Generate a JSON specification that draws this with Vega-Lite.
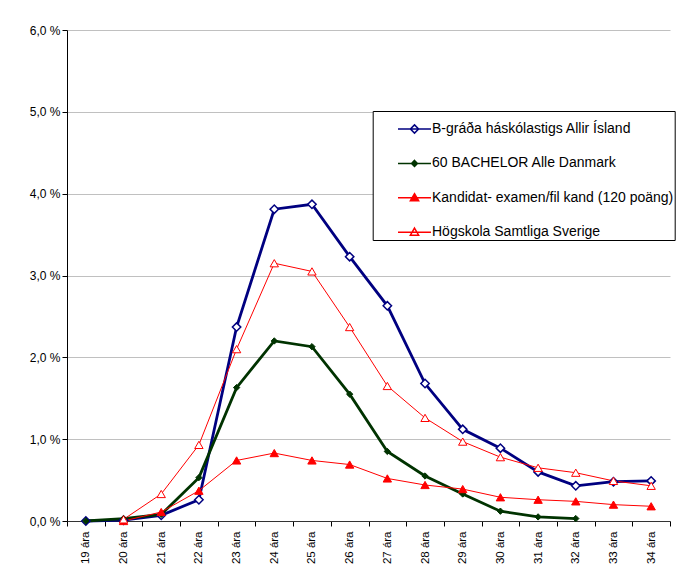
{
  "$schema": "https://vega.github.io/schema/vega-lite/v6.json",
  "width": 603,
  "height": 491,
  "autosize": {"type": "none"},
  "padding": {"left": 67, "top": 30, "right": 23, "bottom": 62},
  "background": "white",
  "config": {
    "view": {"stroke": null},
    "font": "Liberation Sans",
    "axis": {"labelFont": "Liberation Sans", "labelColor": "black", "domainColor": "black", "tickColor": "black", "title": null}
  },
  "datasets": {
    "d": [
      {"age": "19 ára", "series": "B-gráða háskólastigs Allir Ísland", "v": 0.0},
      {"age": "20 ára", "series": "B-gráða háskólastigs Allir Ísland", "v": 0.01},
      {"age": "21 ára", "series": "B-gráða háskólastigs Allir Ísland", "v": 0.07},
      {"age": "22 ára", "series": "B-gráða háskólastigs Allir Ísland", "v": 0.26},
      {"age": "23 ára", "series": "B-gráða háskólastigs Allir Ísland", "v": 2.37},
      {"age": "24 ára", "series": "B-gráða háskólastigs Allir Ísland", "v": 3.81},
      {"age": "25 ára", "series": "B-gráða háskólastigs Allir Ísland", "v": 3.87},
      {"age": "26 ára", "series": "B-gráða háskólastigs Allir Ísland", "v": 3.23},
      {"age": "27 ára", "series": "B-gráða háskólastigs Allir Ísland", "v": 2.63},
      {"age": "28 ára", "series": "B-gráða háskólastigs Allir Ísland", "v": 1.68},
      {"age": "29 ára", "series": "B-gráða háskólastigs Allir Ísland", "v": 1.12},
      {"age": "30 ára", "series": "B-gráða háskólastigs Allir Ísland", "v": 0.89},
      {"age": "31 ára", "series": "B-gráða háskólastigs Allir Ísland", "v": 0.6},
      {"age": "32 ára", "series": "B-gráða háskólastigs Allir Ísland", "v": 0.43},
      {"age": "33 ára", "series": "B-gráða háskólastigs Allir Ísland", "v": 0.48},
      {"age": "34 ára", "series": "B-gráða háskólastigs Allir Ísland", "v": 0.49},
      {"age": "19 ára", "series": "60 BACHELOR Alle Danmark", "v": 0.0},
      {"age": "20 ára", "series": "60 BACHELOR Alle Danmark", "v": 0.03},
      {"age": "21 ára", "series": "60 BACHELOR Alle Danmark", "v": 0.08},
      {"age": "22 ára", "series": "60 BACHELOR Alle Danmark", "v": 0.53},
      {"age": "23 ára", "series": "60 BACHELOR Alle Danmark", "v": 1.63},
      {"age": "24 ára", "series": "60 BACHELOR Alle Danmark", "v": 2.2},
      {"age": "25 ára", "series": "60 BACHELOR Alle Danmark", "v": 2.13},
      {"age": "26 ára", "series": "60 BACHELOR Alle Danmark", "v": 1.55},
      {"age": "27 ára", "series": "60 BACHELOR Alle Danmark", "v": 0.85},
      {"age": "28 ára", "series": "60 BACHELOR Alle Danmark", "v": 0.55},
      {"age": "29 ára", "series": "60 BACHELOR Alle Danmark", "v": 0.33},
      {"age": "30 ára", "series": "60 BACHELOR Alle Danmark", "v": 0.12},
      {"age": "31 ára", "series": "60 BACHELOR Alle Danmark", "v": 0.05},
      {"age": "32 ára", "series": "60 BACHELOR Alle Danmark", "v": 0.03},
      {"age": "20 ára", "series": "Kandidat- examen/fil kand (120 poäng)", "v": 0.0},
      {"age": "21 ára", "series": "Kandidat- examen/fil kand (120 poäng)", "v": 0.11},
      {"age": "22 ára", "series": "Kandidat- examen/fil kand (120 poäng)", "v": 0.37},
      {"age": "23 ára", "series": "Kandidat- examen/fil kand (120 poäng)", "v": 0.74},
      {"age": "24 ára", "series": "Kandidat- examen/fil kand (120 poäng)", "v": 0.83},
      {"age": "25 ára", "series": "Kandidat- examen/fil kand (120 poäng)", "v": 0.74},
      {"age": "26 ára", "series": "Kandidat- examen/fil kand (120 poäng)", "v": 0.69},
      {"age": "27 ára", "series": "Kandidat- examen/fil kand (120 poäng)", "v": 0.52},
      {"age": "28 ára", "series": "Kandidat- examen/fil kand (120 poäng)", "v": 0.44},
      {"age": "29 ára", "series": "Kandidat- examen/fil kand (120 poäng)", "v": 0.39},
      {"age": "30 ára", "series": "Kandidat- examen/fil kand (120 poäng)", "v": 0.29},
      {"age": "31 ára", "series": "Kandidat- examen/fil kand (120 poäng)", "v": 0.26},
      {"age": "32 ára", "series": "Kandidat- examen/fil kand (120 poäng)", "v": 0.24},
      {"age": "33 ára", "series": "Kandidat- examen/fil kand (120 poäng)", "v": 0.2},
      {"age": "34 ára", "series": "Kandidat- examen/fil kand (120 poäng)", "v": 0.18},
      {"age": "20 ára", "series": "Högskola Samtliga Sverige", "v": 0.02},
      {"age": "21 ára", "series": "Högskola Samtliga Sverige", "v": 0.33},
      {"age": "22 ára", "series": "Högskola Samtliga Sverige", "v": 0.93},
      {"age": "23 ára", "series": "Högskola Samtliga Sverige", "v": 2.1},
      {"age": "24 ára", "series": "Högskola Samtliga Sverige", "v": 3.15},
      {"age": "25 ára", "series": "Högskola Samtliga Sverige", "v": 3.05},
      {"age": "26 ára", "series": "Högskola Samtliga Sverige", "v": 2.37},
      {"age": "27 ára", "series": "Högskola Samtliga Sverige", "v": 1.65},
      {"age": "28 ára", "series": "Högskola Samtliga Sverige", "v": 1.26},
      {"age": "29 ára", "series": "Högskola Samtliga Sverige", "v": 0.97},
      {"age": "30 ára", "series": "Högskola Samtliga Sverige", "v": 0.78},
      {"age": "31 ára", "series": "Högskola Samtliga Sverige", "v": 0.65},
      {"age": "32 ára", "series": "Högskola Samtliga Sverige", "v": 0.59},
      {"age": "33 ára", "series": "Högskola Samtliga Sverige", "v": 0.49},
      {"age": "34 ára", "series": "Högskola Samtliga Sverige", "v": 0.43}
    ]
  },
  "data": {"name": "d"},
  "encoding": {
    "x": {
      "field": "age",
      "type": "ordinal",
      "scale": {"type": "band", "paddingInner": 0, "paddingOuter": 0},
      "axis": {"labelAngle": -90, "tickBand": "extent", "tickSize": 5, "labelPadding": 5, "labelFontSize": 11.5, "grid": false, "domainColor": "#333333"}
    },
    "y": {
      "field": "v",
      "type": "quantitative",
      "scale": {"domain": [0, 6]},
      "axis": {
        "values": [0, 1, 2, 3, 4, 5, 6],
        "labelExpr": "replace(format(datum.value, '.1f'), '.', ',') + ' %'",
        "grid": true,
        "gridColor": "#c0c0c0",
        "tickSize": 5,
        "labelPadding": 2,
        "labelFontSize": 12
      }
    }
  },
  "layer": [
    {
      "mark": {"type": "line"},
      "encoding": {
        "color": {
          "field": "series",
          "type": "nominal",
          "sort": null,
          "scale": {
            "domain": ["B-gráða háskólastigs Allir Ísland", "60 BACHELOR Alle Danmark", "Kandidat- examen/fil kand (120 poäng)", "Högskola Samtliga Sverige"],
            "range": ["#000080", "#003300", "#ff0000", "#ff0000"]
          },
          "legend": {
            "orient": "none",
            "legendX": 305.7,
            "legendY": 81,
            "title": null,
            "fillColor": "white",
            "strokeColor": "black",
            "padding": 0.5,
            "symbolSize": 1089,
            "rowPadding": 9.4,
            "symbolOffset": 23.8,
            "labelOffset": 0,
            "labelFontSize": 14,
            "labelColor": "black",
            "labelFont": "Liberation Sans",
            "labelLimit": 400,
            "encode": {
              "symbols": {
                "update": {
                  "shape": {"signal": "indexof(datum.value, 'B-gr') == 0 ? 'M-1,0H1M0,-0.25L0.25,0L0,0.25L-0.25,0Z' : indexof(datum.value, '60 B') == 0 ? 'M-1,0H1M0,-0.18L0.18,0L0,0.18L-0.18,0Z' : 'M-1,0H1M0,-0.25L0.25,0.18L-0.25,0.18Z'"},
                  "fill": {"signal": "indexof(datum.value, '60 B') == 0 ? '#003300' : indexof(datum.value, 'Kand') == 0 ? '#ff0000' : 'white'"},
                  "stroke": {"signal": "indexof(datum.value, 'B-gr') == 0 ? '#000080' : indexof(datum.value, '60 B') == 0 ? '#003300' : '#ff0000'"},
                  "opacity": {"value": 1}
                }
              }
            }
          }
        },
        "strokeWidth": {
          "condition": {"test": "indexof(datum.series, 'B-gr') == 0 || indexof(datum.series, '60 B') == 0", "value": 2.8},
          "value": 1
        }
      }
    },
    {
      "transform": [{"filter": "datum.series == 'B-gráða háskólastigs Allir Ísland'"}],
      "mark": {"type": "point", "shape": "diamond", "size": 70, "fill": "white", "stroke": "#000080", "strokeWidth": 1.5, "opacity": 1}
    },
    {
      "transform": [{"filter": "datum.series == '60 BACHELOR Alle Danmark'"}],
      "mark": {"type": "point", "shape": "diamond", "size": 40, "fill": "#003300", "stroke": "#003300", "strokeWidth": 1, "opacity": 1}
    },
    {
      "transform": [{"filter": "datum.series == 'Kandidat- examen/fil kand (120 poäng)'"}],
      "mark": {"type": "point", "shape": "triangle-up", "size": 70, "fill": "#ff0000", "stroke": "#ff0000", "strokeWidth": 1, "opacity": 1}
    },
    {
      "transform": [{"filter": "datum.series == 'Högskola Samtliga Sverige'"}],
      "mark": {"type": "point", "shape": "triangle-up", "size": 70, "fill": "white", "stroke": "#ff0000", "strokeWidth": 1, "opacity": 1}
    }
  ]
}
